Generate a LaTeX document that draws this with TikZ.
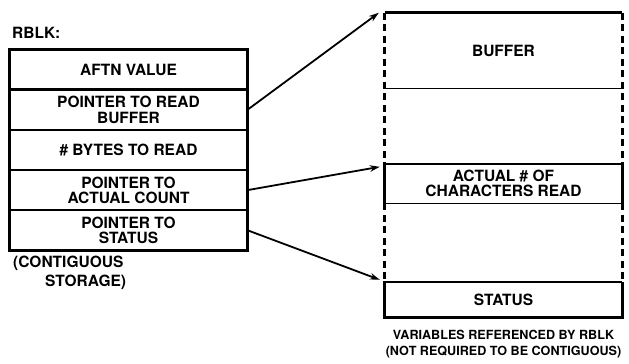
\documentclass[tikz,border=0pt]{standalone}
\usepackage{fontspec}
\setmainfont{TeX Gyre Heros}
\usetikzlibrary{arrows.meta, positioning}

\begin{document}
\begin{tikzpicture}[x=1pt, y=-1pt, >={Stealth[length=10pt, width=6.5pt]},
    every node/.style={font=\bfseries\fontsize{15.5}{15.5}\selectfont, inner sep=0pt, align=center},
    field/.style={draw, line width=1.2pt, minimum width=237pt, minimum height=39pt},
    slot/.style={minimum width=237pt, minimum height=39pt},
    boxedge/.style={line width=3.2pt},
    gapedge/.style={line width=3.2pt, dash pattern=on 7pt off 4.5pt},
    sepline/.style={line width=1.4pt},
    ptr/.style={->, line width=1.8pt}]
        \useasboundingbox (0,0) rectangle (629,364);

        % Bloque RBLK (almacenamiento contiguo)
        \node[anchor=west] (rblk) at (12,33) {RBLK:};
        \node[field] (aftn) at (128.5,69.5) {AFTN VALUE};
        \node[field, below=0pt of aftn] (ptrbuf) {POINTER TO READ\\BUFFER};
        \node[field, below=0pt of ptrbuf] (nbytes) {\# BYTES TO READ};
        \node[field, below=0pt of nbytes] (ptrcount) {POINTER TO\\ACTUAL COUNT};
        \node[field, below=0pt of ptrcount] (ptrstatus) {POINTER TO\\STATUS};
        \draw[line width=2.6pt] (aftn.north west) rectangle (ptrstatus.south east);
        \node[anchor=west] (contig) at (13,263) {(CONTIGUOUS};
        \node[anchor=west] (storage) at (45,282) {STORAGE)};

        % Variables referenciadas
        \node[slot, minimum height=75pt] (buffer) at (503.5,50.5) {BUFFER};
        \node[slot] (actual) at (503.5,183.5) {ACTUAL \# OF\\CHARACTERS READ};
        \node[slot, minimum height=35pt] (status) at (503.5,299.5) {STATUS};

        % Bordes del area no contigua
        \draw[boxedge] (buffer.north west) -- (buffer.north east);
        \draw[gapedge] (buffer.north west) -- (actual.north west);
        \draw[gapedge] (buffer.north east) -- (actual.north east);
        \draw[sepline] ([xshift=-2pt]buffer.south west) -- (buffer.south east);
        \draw[boxedge] (actual.north west) -- (actual.south west);
        \draw[boxedge] (actual.north east) -- (actual.south east);
        \draw[sepline] ([xshift=-2pt]actual.north west) -- (actual.north east);
        \draw[sepline] (actual.south west) -- (actual.south east);
        \draw[gapedge] (actual.south west) -- (status.north west);
        \draw[gapedge] (actual.south east) -- (status.north east);
        \draw[sepline] ([xshift=-2pt]status.north west) -- (status.north east);
        \draw[boxedge] (status.north west) -- (status.south west) -- (status.south east) -- (status.north east);
        \node[font=\bfseries\fontsize{12.6}{15.5}\selectfont] (caption) at (503.5,344) {VARIABLES REFERENCED BY RBLK\\(NOT REQUIRED TO BE CONTIGUOUS)};

        % Punteros
        \draw[ptr] (ptrbuf.east) -- ([xshift=-6pt]buffer.north west);
        \draw[ptr] (ptrcount.east) -- ([xshift=-5pt, yshift=-3pt]actual.north west);
        \draw[ptr] (ptrstatus.east) -- ([xshift=-5pt, yshift=2pt]status.north west);

    \end{tikzpicture}
\end{document}
